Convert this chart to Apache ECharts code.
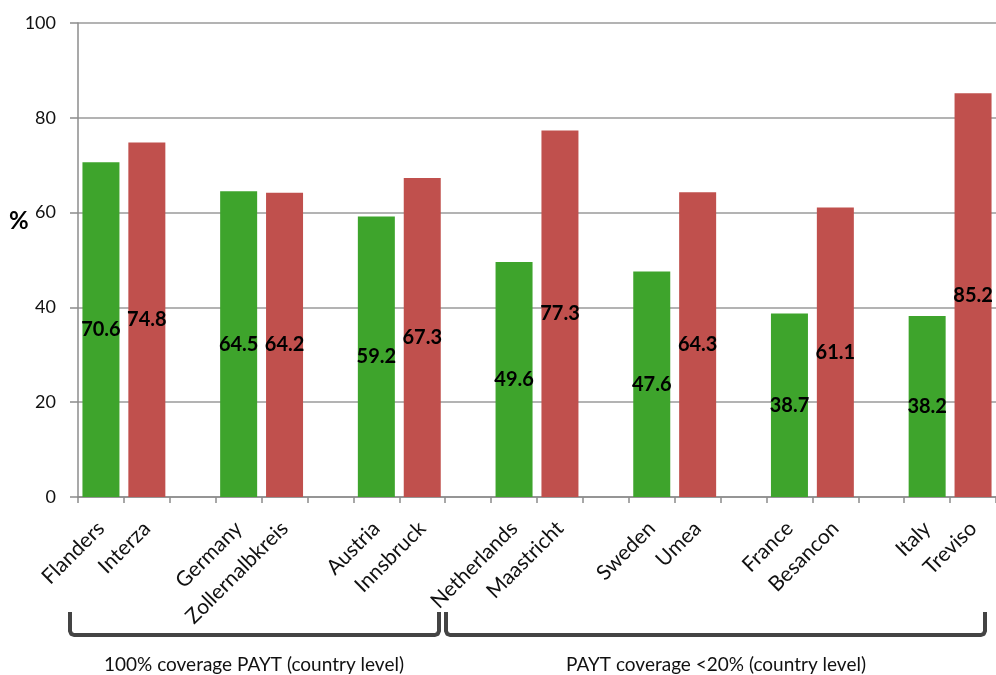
<!DOCTYPE html>
<html>
<head>
<meta charset="utf-8">
<script src="https://cdn.jsdelivr.net/npm/echarts@6/dist/echarts.min.js"></script>
<style>
  html, body { margin: 0; padding: 0; background: #fff; }
  #chart { width: 996px; height: 675px; }
</style>
</head>
<body>
<div id="chart"></div>
<script>
// Country-level vs. city-level shares (%)
const countries = ['Flanders', 'Germany', 'Austria', 'Netherlands', 'Sweden', 'France', 'Italy'];
const cities = ['Interza', 'Zollernalbkreis', 'Innsbruck', 'Maastricht', 'Umea', 'Besancon', 'Treviso'];
const countryValues = [70.6, 64.5, 59.2, 49.6, 47.6, 38.7, 38.2];
const cityValues = [74.8, 64.2, 67.3, 77.3, 64.3, 61.1, 85.2];
const yTicks = { min: 0, max: 100, interval: 20 };
const groupNotes = ['100% coverage PAYT (country level)', 'PAYT coverage <20% (country level)'];

// Lay out pairs on one category axis with an empty slot between pairs
const categories = [];
const greenData = [];
const redData = [];
countries.forEach((c, i) => {
  categories.push(c);
  greenData.push(countryValues[i]);
  redData.push('-');
  categories.push(cities[i]);
  greenData.push('-');
  redData.push(cityValues[i]);
  if (i < countries.length - 1) {
    categories.push('');
    greenData.push('-');
    redData.push('-');
  }
});

const labelStyle = {
  show: true,
  position: 'inside',
  color: '#000',
  fontFamily: 'Lato',
  fontWeight: 'bold',
  fontSize: 20
};

// Bracket outline under each group of labels
function bracket(x1, x2, yTop, yBottom) {
  const r = 4;
  return [
    [x1, yTop], [x1, yBottom - r], [x1 + 1.2, yBottom - 1.2], [x1 + r, yBottom],
    [x2 - r, yBottom], [x2 - 1.2, yBottom - 1.2], [x2, yBottom - r], [x2, yTop]
  ];
}

const chart = echarts.init(document.getElementById('chart'));
const bracketStyle = { stroke: '#444', lineWidth: 4, fill: null, lineJoin: 'round' };

chart.setOption({
  animation: false,
  grid: { left: 78, top: 23, width: 920, height: 474 },
  xAxis: {
    type: 'category',
    data: categories,
    axisLine: { lineStyle: { color: '#8c8c8c', width: 1.5 } },
    axisTick: { show: true, length: 6, interval: 0, lineStyle: { color: '#8c8c8c', width: 1.5 } },
    axisLabel: {
      interval: 0,
      rotate: 45,
      margin: 28,
      fontFamily: 'Lato',
      fontSize: 21,
      color: '#111'
    }
  },
  yAxis: {
    type: 'value',
    min: yTicks.min,
    max: yTicks.max,
    interval: yTicks.interval,
    axisLine: { show: true, lineStyle: { color: '#8c8c8c', width: 1.5 } },
    axisTick: { show: true, length: 8, lineStyle: { color: '#8c8c8c', width: 1.5 } },
    axisLabel: { margin: 22, fontFamily: 'Lato', fontSize: 18, color: '#111' },
    splitLine: { lineStyle: { color: '#9a9a9a', width: 1.5 } }
  },
  series: [
    {
      name: 'Country',
      type: 'bar',
      data: greenData,
      barWidth: 37,
      barGap: '-100%',
      itemStyle: { color: '#3ea42c' },
      label: labelStyle
    },
    {
      name: 'City',
      type: 'bar',
      data: redData,
      barWidth: 37,
      barGap: '-100%',
      itemStyle: { color: '#c0504d' },
      label: labelStyle
    }
  ],
  graphic: [
    {
      type: 'text',
      left: 9,
      top: 209,
      style: { text: '%', fontFamily: 'Lato', fontWeight: 'bold', fontSize: 24, fill: '#000' }
    },
    {
      type: 'polyline',
      shape: { points: bracket(70, 439, 612, 635) },
      style: bracketStyle
    },
    {
      type: 'polyline',
      shape: { points: bracket(446, 985, 612, 635) },
      style: bracketStyle
    },
    {
      type: 'text',
      x: 254,
      y: 665,
      style: { text: groupNotes[0], align: 'center', verticalAlign: 'middle', fontFamily: 'Lato', fontSize: 19, fill: '#111' }
    },
    {
      type: 'text',
      x: 716,
      y: 665,
      style: { text: groupNotes[1], align: 'center', verticalAlign: 'middle', fontFamily: 'Lato', fontSize: 19, fill: '#111' }
    }
  ]
});
</script>
</body>
</html>
